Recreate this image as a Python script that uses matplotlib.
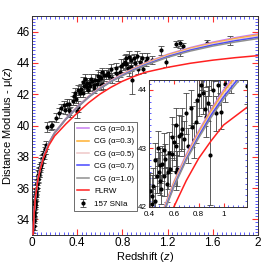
import matplotlib
matplotlib.use("Agg")
import matplotlib.pyplot as plt
from matplotlib.ticker import MultipleLocator, FuncFormatter

plt.rcParams['font.family'] = ['Liberation Sans', 'DejaVu Sans']
plt.rcParams['mathtext.fontset'] = 'custom'
plt.rcParams['mathtext.it'] = 'Liberation Sans:italic'
plt.rcParams['mathtext.rm'] = 'Liberation Sans'

# ---------------- model curves ----------------
z_model = [0.01, 0.015, 0.02, 0.03, 0.05, 0.07, 0.1, 0.15, 0.2, 0.3, 0.4, 0.5,
           0.6, 0.7, 0.8, 0.9, 1.0, 1.2, 1.4, 1.6, 1.8, 2.0]
cg_a01 = [33.0, 33.88, 34.5, 35.4, 36.5, 37.2, 38.0, 38.9, 39.55, 40.45, 41.2, 41.87,
          42.43, 42.9, 43.3, 43.67, 44.0, 44.55, 44.98, 45.33, 45.62, 45.86]
cg_a03 = [33.0, 33.88, 34.5, 35.4, 36.5, 37.2, 37.99, 38.89, 39.54, 40.44, 41.18, 41.85,
          42.41, 42.87, 43.27, 43.64, 43.96, 44.51, 44.93, 45.27, 45.56, 45.79]
cg_a05 = [33.0, 33.88, 34.5, 35.4, 36.5, 37.19, 37.99, 38.88, 39.53, 40.42, 41.17, 41.83,
          42.38, 42.85, 43.24, 43.6, 43.92, 44.46, 44.88, 45.22, 45.49, 45.72]
cg_a07 = [33.0, 33.88, 34.5, 35.4, 36.49, 37.19, 37.98, 38.88, 39.52, 40.41, 41.15, 41.81,
          42.36, 42.82, 43.21, 43.57, 43.88, 44.41, 44.82, 45.15, 45.42, 45.64]
cg_a10 = [33.0, 33.88, 34.5, 35.4, 36.49, 37.19, 37.98, 38.87, 39.51, 40.4, 41.14, 41.79,
          42.34, 42.8, 43.18, 43.53, 43.84, 44.36, 44.76, 45.08, 45.34, 45.56]
flrw = [33.0, 33.87, 34.48, 35.37, 36.44, 37.12, 37.9, 38.74, 39.33, 40.1, 40.8, 41.45,
        42.0, 42.45, 42.83, 43.13, 43.4, 43.72, 43.98, 44.18, 44.34, 44.47]

model_labels = ['CG (α=0.1)', 'CG (α=0.3)', 'CG (α=0.5)', 'CG (α=0.7)', 'CG (α=1.0)', 'FLRW']
model_colors = ['#c77ff0', '#ffb030', '#efc8c8', '#4848ff', '#909090', '#ff2020']

# ---------------- 157 SNIa (approximate reading) ----------------
sn_z = [0.012, 0.014, 0.015, 0.016, 0.017, 0.018, 0.019, 0.020, 0.021, 0.022, 0.023,
        0.024, 0.025, 0.026, 0.027, 0.028, 0.030, 0.032, 0.034, 0.036, 0.038, 0.040,
        0.043, 0.046, 0.050, 0.053, 0.056, 0.060, 0.063, 0.066, 0.070, 0.074, 0.078,
        0.082, 0.088, 0.094, 0.100, 0.106, 0.112, 0.118, 0.125,
        0.136, 0.165, 0.180, 0.210, 0.240, 0.260, 0.280, 0.295, 0.310, 0.324, 0.330,
        0.340, 0.360, 0.370, 0.380, 0.390, 0.400, 0.410,
        0.408, 0.422, 0.427, 0.435, 0.449, 0.463, 0.477, 0.490, 0.490, 0.504, 0.518,
        0.523, 0.530, 0.546, 0.559, 0.573, 0.587, 0.587, 0.600, 0.614, 0.614, 0.628,
        0.641, 0.655, 0.669, 0.682, 0.710, 0.743, 0.765, 0.779, 0.790, 0.806, 0.820,
        0.834, 0.847, 0.861, 0.875, 0.888, 0.916, 0.940, 0.957, 0.979,
        0.450, 0.470, 0.500, 0.550, 0.620, 0.700, 0.740,
        0.830, 0.860, 0.880, 0.900, 0.930, 0.970, 1.010, 1.020,
        1.060, 1.140, 1.190, 1.277, 1.306, 1.336, 1.310, 1.548, 1.755]
sn_mu = [33.4, 33.6, 33.95, 33.9, 34.25, 34.2, 34.5, 34.35, 34.7, 34.6, 34.9,
         34.8, 35.0, 35.05, 35.2, 35.1, 35.5, 35.5, 35.75, 35.7, 35.95, 36.0,
         36.25, 36.3, 36.6, 36.55, 36.85, 36.9, 37.1, 37.0, 37.35, 37.3, 37.6,
         37.5, 37.85, 37.9, 38.2, 38.1, 38.5, 38.4, 38.75,
         39.9, 40.0, 40.05, 40.5, 40.8, 41.1, 41.3, 41.0, 41.4, 41.4, 41.0,
         40.87, 41.6, 41.9, 42.1, 41.7, 40.9, 41.2,
         42.28, 42.05, 42.19, 42.36, 42.1, 42.53, 42.59, 42.71, 42.45, 42.74, 42.53,
         42.97, 42.82, 42.39, 42.93, 42.65, 42.91, 43.19, 43.11, 42.59, 43.05, 42.65,
         43.22, 43.25, 43.34, 43.17, 43.05, 43.37, 43.14, 43.45, 43.83, 43.91, 44.09,
         43.94, 43.68, 43.54, 43.77, 42.89, 44.0, 43.6, 44.09, 43.63,
         42.8, 43.0, 42.3, 42.6, 43.4, 43.6, 43.7,
         44.3, 44.4, 44.2, 44.3, 44.45, 44.3, 44.1, 44.35,
         44.2, 44.8, 44.06, 45.19, 45.27, 45.06, 44.7, 45.3, 45.45]
sn_err = [0.25, 0.3, 0.2, 0.3, 0.25, 0.2, 0.3, 0.25, 0.3, 0.2, 0.25,
          0.3, 0.2, 0.25, 0.3, 0.2, 0.25, 0.3, 0.2, 0.25, 0.3, 0.2,
          0.25, 0.3, 0.2, 0.25, 0.3, 0.2, 0.25, 0.3, 0.2, 0.25, 0.3,
          0.2, 0.25, 0.3, 0.2, 0.25, 0.3, 0.2, 0.25,
          0.3, 0.3, 0.25, 0.3, 0.3, 0.3, 0.3, 0.25, 0.3, 0.3, 0.3,
          0.3, 0.3, 0.25, 0.3, 0.25, 0.4, 0.35,
          0.3, 0.25, 0.35, 0.3, 0.25, 0.3, 0.35, 0.3, 0.25, 0.3, 0.35,
          0.3, 0.25, 0.3, 0.35, 0.3, 0.3, 0.35, 0.3, 0.3, 0.35, 0.3,
          0.35, 0.3, 0.35, 0.3, 0.3, 0.35, 0.3, 0.35, 0.4, 0.35, 0.4,
          0.35, 0.3, 0.35, 0.3, 0.85, 0.35, 0.3, 0.35, 0.3,
          0.3, 0.3, 0.25, 0.3, 0.3, 0.35, 0.3,
          0.3, 0.35, 0.3, 0.3, 0.3, 0.35, 0.3, 0.3,
          0.25, 0.3, 0.3, 0.2, 0.2, 0.2, 0.25, 0.2, 0.3]

RED = '#ff3030'
BLUE = '#4040ff'


def style_axes(ax, xmaj, xmin, ymaj, ymin, lsize, majlen, minlen, xpad=1.5, ypad=1.5):
    ax.xaxis.set_major_locator(MultipleLocator(xmaj))
    ax.xaxis.set_minor_locator(MultipleLocator(xmin))
    ax.yaxis.set_major_locator(MultipleLocator(ymaj))
    ax.yaxis.set_minor_locator(MultipleLocator(ymin))
    ax.xaxis.set_major_formatter(FuncFormatter(lambda v, p: '%g' % round(v, 3)))
    ax.yaxis.set_major_formatter(FuncFormatter(lambda v, p: '%g' % round(v, 3)))
    ax.tick_params(which='both', direction='in', top=True, right=True, labelsize=lsize)
    ax.tick_params(which='major', length=majlen, width=0.8, color=RED)
    ax.tick_params(axis='x', which='major', pad=xpad)
    ax.tick_params(axis='y', which='major', pad=ypad)
    ax.tick_params(which='minor', length=minlen, width=0.6, color=BLUE)
    for s in ax.spines.values():
        s.set_linewidth(0.7)
        s.set_color('#333333')


def draw(ax, with_labels):
    ax.errorbar(sn_z, sn_mu, yerr=sn_err, fmt='o', ms=2.0, color='black',
                ecolor='#444444', elinewidth=0.6, capsize=2.4, capthick=0.6,
                zorder=2, label='157 SNIa' if with_labels else None)
    series = [cg_a01, cg_a03, cg_a05, cg_a07, cg_a10, flrw]
    for mu, lab, col in zip(series, model_labels, model_colors):
        ax.plot(z_model, mu, color=col, lw=1.1, zorder=3,
                label=lab if with_labels else None)


fig = plt.figure(figsize=(2.77, 2.77), dpi=100)
ax = fig.add_axes([0.1155, 0.1516, 0.8155, 0.7904])
draw(ax, True)
ax.set_xlim(0, 2)
ax.set_ylim(33, 47)
style_axes(ax, 0.4, 0.04, 2, 0.2, 8.5, 4.5, 2.2)
ax.set_xlabel('Redshift ($z$)', fontsize=8, labelpad=1)
ax.set_ylabel('Distance Modulus - μ($z$)', fontsize=8, labelpad=1)

handles, labels = ax.get_legend_handles_labels()
order = [labels.index(l) for l in model_labels + ['157 SNIa']]
leg = ax.legend([handles[i] for i in order], [labels[i] for i in order],
                loc='upper left', bbox_to_anchor=(0.186, 0.516), borderaxespad=0,
                fontsize=5.8, frameon=True, fancybox=False, framealpha=1,
                edgecolor='#555555', handlelength=1.5, handletextpad=0.6,
                labelspacing=0.6, borderpad=0.4, markerscale=1.0)
leg.get_frame().set_linewidth(0.6)
leg.set_zorder(5)

axin = fig.add_axes([0.538, 0.253, 0.354, 0.458])
draw(axin, False)
axin.set_xlim(0.4, 1.19)
axin.set_ylim(42, 44.17)
style_axes(axin, 0.2, 0.04, 1, 0.1, 5.8, 3.0, 1.5, xpad=3.0, ypad=1.5)
axin.set_zorder(6)

fig.savefig('out.png', dpi=100)
